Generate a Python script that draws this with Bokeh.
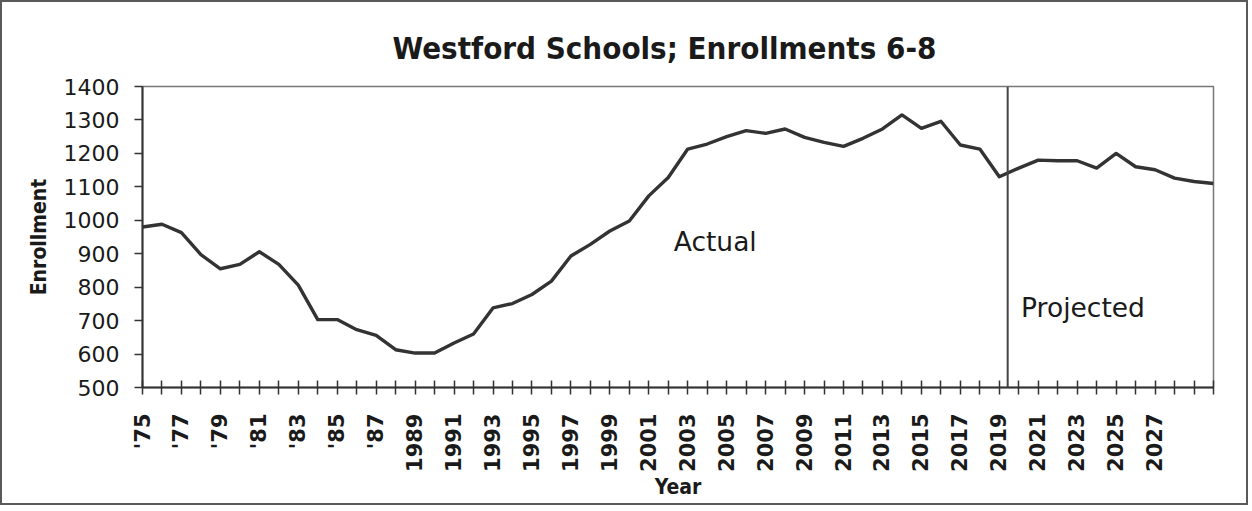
import numpy as np
from bokeh.plotting import figure
from bokeh.models import FixedTicker, Range1d, Label, Span
from bokeh.embed import file_html
from bokeh.resources import INLINE

# ---- data ----
years = list(range(1975, 2031))
enrollment = [980, 988, 963, 897, 855, 868, 906, 868, 806, 703,
              703, 673, 656, 613, 603, 603, 633, 660, 738, 751,
              778, 818, 893, 928, 968, 998, 1073, 1128, 1213, 1228,
              1250, 1268, 1260, 1273, 1248, 1233, 1221, 1245, 1273, 1315,
              1275, 1296, 1225, 1213, 1130, 1156, 1180, 1178, 1178, 1156,
              1200, 1160, 1151, 1126, 1116, 1110]
label_years = list(range(1975, 2028, 2))
label_texts = ["'75", "'77", "'79", "'81", "'83", "'85", "'87", "1989", "1991",
               "1993", "1995", "1997", "1999", "2001", "2003", "2005", "2007",
               "2009", "2011", "2013", "2015", "2017", "2019", "2021", "2023",
               "2025", "2027"]
y_ticks = list(range(500, 1401, 100))
projection_start = 2019.43

p = figure(width=1248, height=505, x_range=Range1d(1975, 2030), y_range=Range1d(500, 1400),
           output_backend="svg", toolbar_location=None,
           min_border_left=140, min_border_right=37, min_border_top=84, min_border_bottom=120)
p.styles = {"border": "2px solid #5a5a5a"}
p.grid.visible = False
p.outline_line_color = "#777777"
p.outline_line_width = 1.5

p.title.text = "Westford Schools; Enrollments 6-8"
p.title.text_font = "DejaVu Sans Condensed"
p.title.text_font_style = "bold"
p.title.text_font_size = "31px"
p.title.text_color = "#1a1a1a"
p.title.align = "left"
p.title.offset = 250
p.title.standoff = 41

# x axis
overrides = {y: "" for y in years}
for y, t in zip(label_years, label_texts):
    overrides[y] = t
p.xaxis.ticker = FixedTicker(ticks=years)
p.xaxis.major_label_overrides = overrides
p.xaxis.major_label_orientation = np.pi / 2
p.xaxis.major_label_text_font = "DejaVu Sans"
p.xaxis.major_label_text_font_style = "bold"
p.xaxis.major_label_text_font_size = "21px"
p.xaxis.major_label_text_color = "#1a1a1a"
p.xaxis.major_label_standoff = 19
p.xaxis.major_tick_in = 7
p.xaxis.major_tick_out = 7
p.xaxis.minor_tick_line_color = None
p.xaxis.axis_line_width = 2
p.xaxis.axis_line_color = "#333333"
p.xaxis.major_tick_line_color = "#333333"
p.xaxis.major_tick_line_width = 1.5
p.xaxis.axis_label = "Year"
p.xaxis.axis_label_text_font = "DejaVu Sans Condensed"
p.xaxis.axis_label_text_font_style = "bold"
p.xaxis.axis_label_text_font_size = "21px"
p.xaxis.axis_label_text_color = "#1a1a1a"
p.xaxis.axis_label_standoff = 0

# y axis
p.yaxis.ticker = FixedTicker(ticks=y_ticks)
p.yaxis.major_label_text_font = "DejaVu Sans"
p.yaxis.major_label_text_font_size = "22px"
p.yaxis.major_label_text_color = "#1a1a1a"
p.yaxis.major_label_standoff = 15
p.yaxis.major_tick_in = 0
p.yaxis.major_tick_out = 8
p.yaxis.minor_tick_line_color = None
p.yaxis.axis_line_width = 2
p.yaxis.axis_line_color = "#333333"
p.yaxis.major_tick_line_color = "#333333"
p.yaxis.major_tick_line_width = 1.5
p.yaxis.axis_label = "Enrollment"
p.yaxis.axis_label_text_font = "DejaVu Sans Condensed"
p.yaxis.axis_label_text_font_style = "bold"
p.yaxis.axis_label_text_font_size = "21px"
p.yaxis.axis_label_text_color = "#1a1a1a"
p.yaxis.axis_label_standoff = 10

p.line(years, enrollment, line_color="#333333", line_width=3.4, line_join="round")

p.add_layout(Span(location=projection_start, dimension="height", line_color="#444444", line_width=2))

p.add_layout(Label(x=2002.28, y=938, text="Actual", text_font="DejaVu Sans",
                   text_font_size="26.5px", text_color="#1a1a1a", text_baseline="alphabetic"))
p.add_layout(Label(x=2020.12, y=740, text="Projected", text_font="DejaVu Sans",
                   text_font_size="26.5px", text_color="#1a1a1a", text_baseline="alphabetic"))

open("out.html", "w").write(file_html(p, INLINE))
